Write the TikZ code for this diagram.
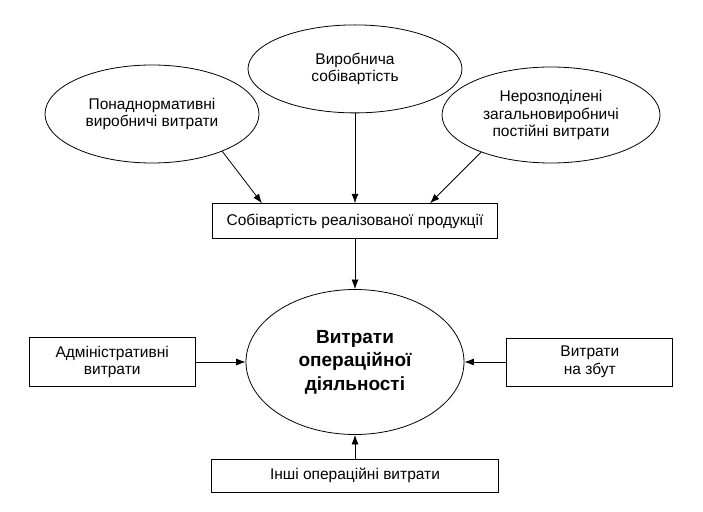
\documentclass[tikz,border=0pt]{standalone}
\usepackage{fontspec}
\setmainfont{Liberation Sans}
\usetikzlibrary{positioning,shapes.geometric,arrows.meta}
\tikzset{
	scheme/.style={>={Latex[length=9.5pt,width=7pt]},line width=0.8pt},
	oval/.style={ellipse,draw,inner sep=0pt,align=center,font=\fontsize{15.5}{17.5}\selectfont},
	block/.style={rectangle,draw,inner sep=0pt,align=center,font=\fontsize{15.5}{17.5}\selectfont},
	core/.style={ellipse,draw,inner sep=0pt,align=center,font=\fontsize{19}{23.5}\selectfont\bfseries}
}

\begin{document}
\begin{tikzpicture}[scheme]
	\useasboundingbox (-355pt,-149pt) rectangle (348pt,362pt);
	
	\node[core, minimum width=218pt, minimum height=145pt] (ops) {Витрати\\операційної\\діяльності};
	\node[block, minimum width=285pt, minimum height=35pt] (sold) [above=50pt of ops] {Собівартість реалізованої продукції};
	\node[block, minimum width=287pt, minimum height=33pt] (other) [below=24pt of ops] {Інші операційні витрати};
	\node[block, minimum width=166pt, minimum height=49pt] (admin) [left=50pt of ops] {Адміністративні\\витрати};
	\node[block, minimum width=166pt, minimum height=48pt] (sales) [right=42pt of ops] {Витрати\\на збут};
	\node[oval, minimum width=214pt, minimum height=88pt] (prod) [above=90pt of sold] {Виробнича\\собівартість};
	\node[oval, minimum width=214pt, minimum height=98pt] (over) at (-203pt,248pt) {Понаднормативні\\виробничі витрати};
	\node[oval, minimum width=218pt, minimum height=96pt] (fixed) at (196pt,247pt) {Нерозподілені\\загальновиробничі\\постійні витрати};
	
	\path[->] (over.-28) edge ([xshift=-93pt]sold.north);
	\path[->] (prod) edge (sold);
	\path[->] (fixed.208) edge ([xshift=75pt]sold.north);
	\path[->] (sold) edge (ops);
	\path[->] (admin) edge (ops);
	\path[->] (sales) edge (ops);
	\path[->] (other) edge (ops);
\end{tikzpicture}
\end{document}
